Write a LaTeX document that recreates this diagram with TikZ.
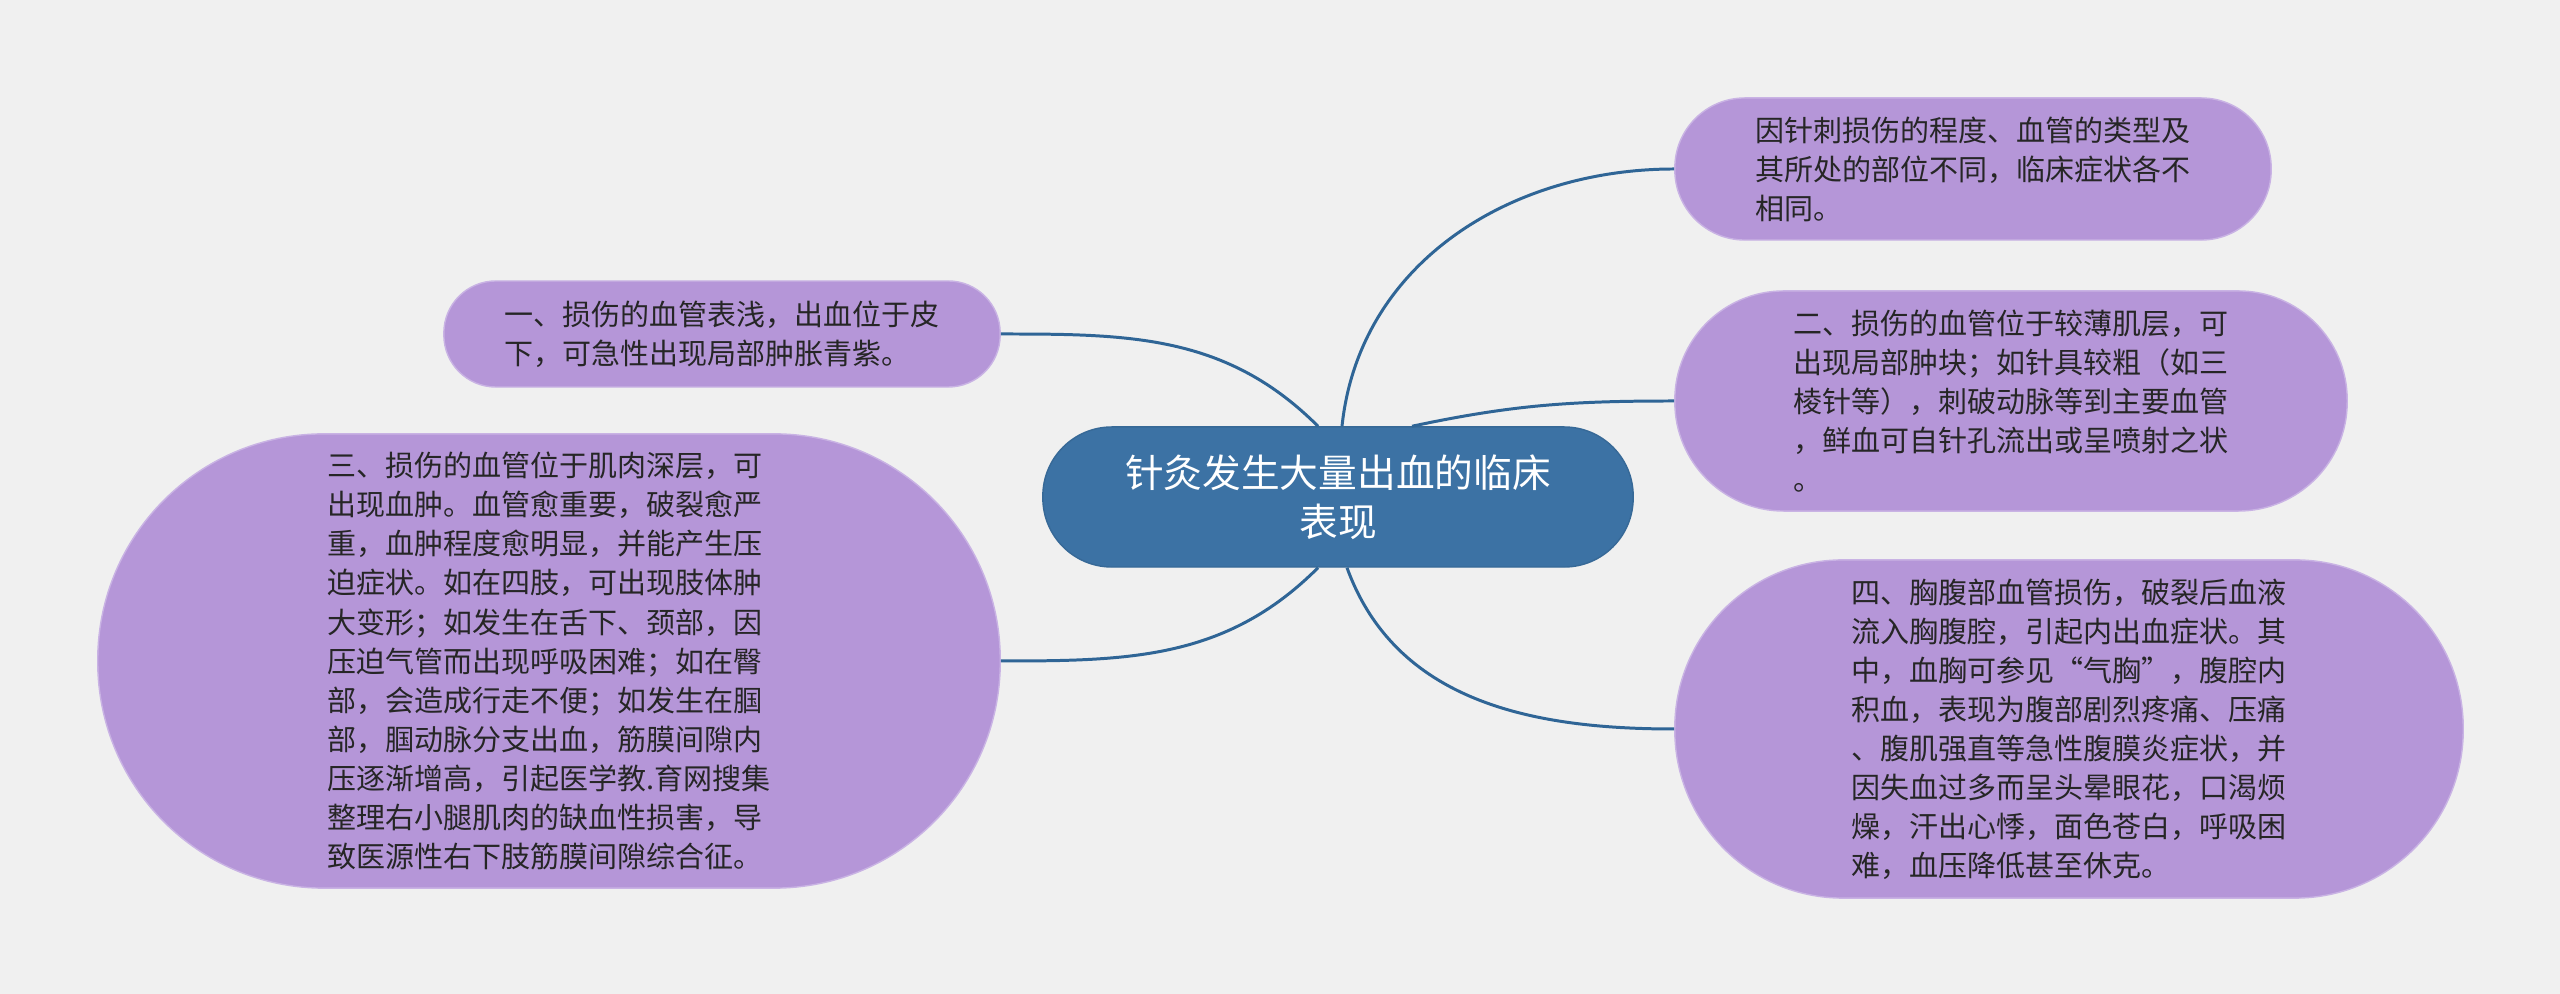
\documentclass[tikz,border=0pt]{standalone}
\usepackage{fontspec}
\setmainfont{Noto Sans CJK SC}
\newfontfamily\fullwidth[CharacterWidth=Full]{Noto Sans CJK SC}
\usepackage{xcolor}
\usepackage{tikz}
\usetikzlibrary{calc}
\definecolor{bluemain}{HTML}{3C72A4}
\definecolor{bluelink}{HTML}{2F6596}
\definecolor{purpleleaf}{HTML}{B596D8}
\definecolor{purpleedge}{HTML}{C9B3E4}
\definecolor{graybg}{HTML}{F0F0F0}
\definecolor{textdark}{HTML}{262626}
\tikzset{every node/.append style={font=\fontsize{8.25}{11.1}\selectfont}}

\begin{document}
\begin{tikzpicture}[x=.01cm,y=.01cm,
  leaf/.style={draw=purpleedge,line width=.4pt,fill=purpleleaf,text=textdark,
    align=left,inner sep=0pt},
  link/.style={bluelink,line width=.85pt}]
  % canvas in pixels of the 2560x994 sheet, origin bottom left
  \fill[graybg] (0,0) rectangle (2560,994);
  \node[draw=bluemain!92!black,fill=bluemain,text=white,align=center,
    minimum width=5.9cm,minimum height=1.4cm,rounded corners=.69cm,
    font=\fontsize{11}{13.9}\selectfont] (root) at (1338,497)
    {针灸发生大量出血的临床\\表现};
  \node[leaf,minimum width=5.96cm,minimum height=1.42cm,rounded corners=.7cm]
    (cause) at (1973,825)
    {因针刺损伤的程度、血管的类型及\\其所处的部位不同，临床症状各不\\相同。};
  \node[leaf,minimum width=6.72cm,minimum height=2.2cm,rounded corners=1.09cm]
    (thin) at (2011,593)
    {二、损伤的血管位于较薄肌层，可\\出现局部肿块；如针具较粗（如三\\棱针等），刺破动脉等到主要血管\\，鲜血可自针孔流出或呈喷射之状\\。};
  \node[leaf,minimum width=7.88cm,minimum height=3.38cm,rounded corners=1.68cm]
    (chest) at (2069,265)
    {四、胸腹部血管损伤，破裂后血液\\流入胸腹腔，引起内出血症状。其\\中，血胸可参见{\fullwidth “}气胸{\fullwidth ”}，腹腔内\\积血，表现为腹部剧烈疼痛、压痛\\、腹肌强直等急性腹膜炎症状，并\\因失血过多而呈头晕眼花，口渴烦\\燥，汗出心悸，面色苍白，呼吸困\\难，血压降低甚至休克。};
  \node[leaf,minimum width=5.56cm,minimum height=1.06cm,rounded corners=.52cm]
    (skin) at (722,660)
    {一、损伤的血管表浅，出血位于皮\\下，可急性出现局部肿胀青紫。};
  \node[leaf,minimum width=9.02cm,minimum height=4.54cm,rounded corners=2.26cm]
    (deep) at (549,333)
    {三、损伤的血管位于肌肉深层，可\\出现血肿。血管愈重要，破裂愈严\\重，血肿程度愈明显，并能产生压\\迫症状。如在四肢，可出现肢体肿\\大变形；如发生在舌下、颈部，因\\压迫气管而出现呼吸困难；如在臀\\部，会造成行走不便；如发生在腘\\部，腘动脉分支出血，筋膜间隙内\\压逐渐增高，引起医学教.育网搜集\\整理右小腿肌肉的缺血性损害，导\\致医源性右下肢筋膜间隙综合征。};
  % branches
  \draw[link] ($(root.north)+(4,0)$) to[out=84,in=180] (cause.west);
  \draw[link] ($(root.north)+(74,0)$) to[out=12,in=180] (thin.west);
  \draw[link] ($(root.south)+(9,0)$) to[out=-70,in=180] (chest.west);
  \draw[link] ($(root.north)+(-20,0)$) to[out=135,in=0] (skin.east);
  \draw[link] ($(root.south)+(-20,0)$) to[out=-135,in=0] (deep.east);
\end{tikzpicture}
\end{document}
